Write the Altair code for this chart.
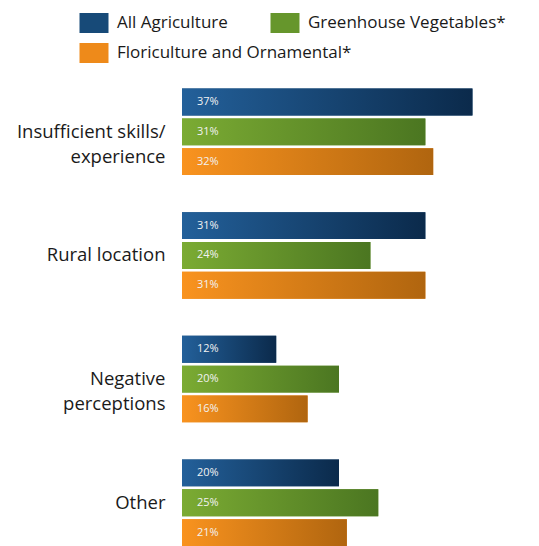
import altair as alt
import pandas as pd

categories = ["Insufficient skills/\nexperience", "Rural location", "Negative\nperceptions", "Other"]
series = ["All Agriculture", "Greenhouse Vegetables*", "Floriculture and Ornamental*"]
all_agri = [37, 31, 12, 20]
greenhouse = [31, 24, 20, 25]
flori = [32, 31, 16, 21]
legend_colors = ["#174a78", "#66962c", "#ee8a1a"]

rows = []
for i, c in enumerate(categories):
    for s, vals in zip(series, [all_agri, greenhouse, flori]):
        rows.append({"category": c, "series": s, "value": vals[i], "label": f"{vals[i]}%"})
df = pd.DataFrame(rows)

def grad(a, b):
    return {"gradient": "linear", "x1": 0, "y1": 0, "x2": 1, "y2": 0,
            "stops": [{"offset": 0, "color": a}, {"offset": 1, "color": b}]}

grads = [grad("#23609a", "#0b2a4b"), grad("#7bab33", "#4b7621"), grad("#f9931f", "#b0650f")]

FONT = "Open Sans"

y_enc = alt.Y("category:N", sort=categories, title=None,
              scale=alt.Scale(domain=categories, paddingInner=0.3, paddingOuter=0.075, align=1),
              axis=alt.Axis(domain=False, ticks=False, labelPadding=17,
                            labelExpr="split(datum.label, '\\n')",
                            labelFont=FONT, labelFontSize=18.5, labelColor="#1a1a1a",
                            labelLineHeight=25, labelLimit=200))
yoff = alt.YOffset("series:N", sort=series,
                   scale=alt.Scale(domain=series, paddingInner=0.1, paddingOuter=0))
x_enc = alt.X("value:Q", scale=alt.Scale(domain=[0, 40], nice=False), axis=None)

base = alt.Chart(df)

def legend_layer(sub, lx, ly, colors):
    return base.transform_filter(
        alt.FieldOneOfPredicate(field="series", oneOf=sub)
    ).mark_bar().encode(
        x=x_enc, y=y_enc, yOffset=yoff,
        color=alt.Color("series:N", sort=sub,
                        scale=alt.Scale(domain=sub, range=colors),
                        legend=alt.Legend(title=None, orient="none", legendX=lx, legendY=ly,
                                          direction="horizontal",
                                          symbolType="M-1.45,-1H1.45V1H-1.45Z", symbolSize=400,
                                          symbolStrokeWidth=0, symbolOpacity=1,
                                          labelFont=FONT, labelFontSize=17, labelColor="#1a1a1a",
                                          labelOffset=13, columnPadding=42,
                                          labelLimit=400)),
    )

leg1 = legend_layer(series[:2], -98, -57, legend_colors[:2])
leg2 = legend_layer(series[2:], -98, -27, legend_colors[2:])

grad_bars = base.mark_bar().encode(
    x=x_enc, y=y_enc, yOffset=yoff,
    fill={"condition": [
        {"test": f"datum.series === '{series[0]}'", "value": grads[0]},
        {"test": f"datum.series === '{series[1]}'", "value": grads[1]},
    ], "value": grads[2]},
)

labels = base.mark_text(align="left", baseline="middle", dx=15, font=FONT,
                        fontSize=11, color="#f2f2f2").encode(
    x=alt.datum(0), y=y_enc, yOffset=yoff, text="label:N")

chart = alt.layer(leg1, leg2, grad_bars, labels).resolve_scale(color="independent").properties(
    width=314, height=476,
    autosize=alt.AutoSizeParams(type="none"),
    padding={"left": 182, "top": 70, "right": 43, "bottom": 0},
).configure_view(stroke=None)

chart.save("out.html", embed_options={"renderer": "svg", "actions": False})
